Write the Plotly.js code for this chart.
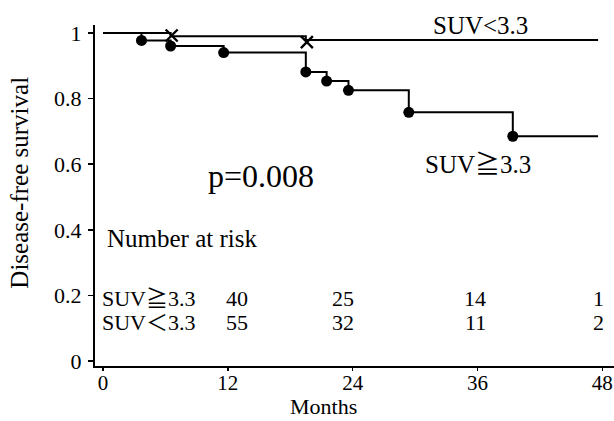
<!DOCTYPE html>
<html>
<head>
<meta charset="utf-8">
<script src="https://cdn.plot.ly/plotly-3.0.1.min.js"></script>
<style>html,body{margin:0;padding:0;background:#fff;}#chart{width:614px;height:421px;}</style>
</head>
<body>
<div id="chart"></div>
<script>
// Kaplan-Meier curves (months, survival)
var lowTimes  = [0, 3.7, 6.5, 11.6, 19.5, 21.5, 23.6, 29.4, 39.4, 47.6];
var lowSurv   = [1, 0.977, 0.96, 0.94, 0.881, 0.853, 0.825, 0.758, 0.685, 0.685];
var lowEventTimes = [3.7, 6.5, 11.6, 19.5, 21.5, 23.6, 29.4, 39.4];
var lowEventSurv  = [0.977, 0.96, 0.94, 0.881, 0.853, 0.825, 0.758, 0.685];

var highTimes = [0, 6.5, 19.5, 47.6];
var highSurv  = [1, 0.99, 0.978, 0.978];
var highMarkTimes = [6.6, 19.6];
var highMarkSurv  = [0.992, 0.972];

var groupLow  = "SUV≧3.3";
var groupHigh = "SUV<3.3";
var riskRowLabels = ["SUV≧3.3", "SUV＜3.3"];
var riskLow  = [40, 25, 14, 1];
var riskHigh = [55, 32, 11, 2];
var xTicks = [0, 12, 24, 36, 48];
var yTicks = [0, 0.2, 0.4, 0.6, 0.8, 1];
var yTickText = ["0", "0.2", "0.4", "0.6", "0.8", "1"];
var xTitle = "Months";
var yTitle = "Disease-free survival";
var riskTitle = "Number at risk";
var pText = "p=0.008";

var serif = "Liberation Serif, Times New Roman, DejaVu Serif, Noto Sans CJK JP, serif";
function f(sz) { return {family: serif, size: sz, color: "#000"}; }

var traces = [
  {x: highTimes, y: highSurv, mode: "lines", line: {shape: "hv", color: "#000", width: 2}, hoverinfo: "skip", showlegend: false},
  {x: highMarkTimes, y: highMarkSurv, mode: "markers", marker: {symbol: "x-thin", size: 12, line: {color: "#000", width: 2.4}}, hoverinfo: "skip", showlegend: false},
  {x: lowTimes, y: lowSurv, mode: "lines", line: {shape: "hv", color: "#000", width: 2}, hoverinfo: "skip", showlegend: false},
  {x: lowEventTimes, y: lowEventSurv, mode: "markers", marker: {symbol: "circle", size: 11, color: "#000"}, hoverinfo: "skip", showlegend: false}
];

// positions for the number-at-risk columns (x in months)
var riskCols = [12.9, 23.1, 35.8, 47.6];
var row1Y = 0.19, row2Y = 0.117;
var ann = [];
ann.push({x: 0.2, y: 0.375, xref: "x", yref: "y", text: riskTitle, showarrow: false, xanchor: "left", yanchor: "middle", font: f(25)});
ann.push({x: -0.3, y: row1Y, xref: "x", yref: "y", text: riskRowLabels[0], showarrow: false, xanchor: "left", yanchor: "middle", font: f(22)});
ann.push({x: -0.3, y: row2Y, xref: "x", yref: "y", text: riskRowLabels[1], showarrow: false, xanchor: "left", yanchor: "middle", font: f(22)});
for (var i = 0; i < riskLow.length; i++) {
  ann.push({x: riskCols[i], y: row1Y, xref: "x", yref: "y", text: String(riskLow[i]), showarrow: false, xanchor: "center", yanchor: "middle", font: f(22)});
  ann.push({x: riskCols[i], y: row2Y, xref: "x", yref: "y", text: String(riskHigh[i]), showarrow: false, xanchor: "center", yanchor: "middle", font: f(22)});
}
ann.push({x: 15.2, y: 0.563, xref: "x", yref: "y", text: pText, showarrow: false, xanchor: "center", yanchor: "middle", font: f(32)});
ann.push({x: 36.3, y: 1.022, xref: "x", yref: "y", text: groupHigh, showarrow: false, xanchor: "center", yanchor: "middle", font: f(25)});
ann.push({x: 36.1, y: 0.6, xref: "x", yref: "y", text: groupLow, showarrow: false, xanchor: "center", yanchor: "middle", font: f(25)});
// axis titles
ann.push({x: -0.145, y: 0.537, xref: "paper", yref: "paper", text: yTitle, textangle: -90, showarrow: false, xanchor: "center", yanchor: "middle", font: f(25)});
ann.push({x: 0.441, y: -0.12, xref: "paper", yref: "paper", text: xTitle, showarrow: false, xanchor: "center", yanchor: "middle", font: f(22)});

var layout = {
  width: 614, height: 421,
  margin: {l: 95, r: 0, t: 25, b: 55},
  paper_bgcolor: "#fff", plot_bgcolor: "#fff",
  showlegend: false,
  xaxis: {
    range: [-0.77, 49.13], tickvals: xTicks, ticktext: xTicks.map(String),
    showgrid: false, zeroline: false, showline: true, linecolor: "#000", linewidth: 2,
    ticks: "outside", ticklen: 3, tickwidth: 1.5, tickcolor: "#000",
    ticklabelstandoff: -6,
    tickfont: f(21)
  },
  yaxis: {
    range: [-0.015, 1.024], tickvals: yTicks, ticktext: yTickText,
    showgrid: false, zeroline: false, showline: true, linecolor: "#000", linewidth: 2,
    ticks: "outside", ticklen: 5, tickwidth: 1.5, tickcolor: "#000",
    ticklabelstandoff: 2,
    tickfont: f(22)
  },
  annotations: ann
};

Plotly.newPlot("chart", traces, layout, {displayModeBar: false, staticPlot: true});
</script>
</body>
</html>
